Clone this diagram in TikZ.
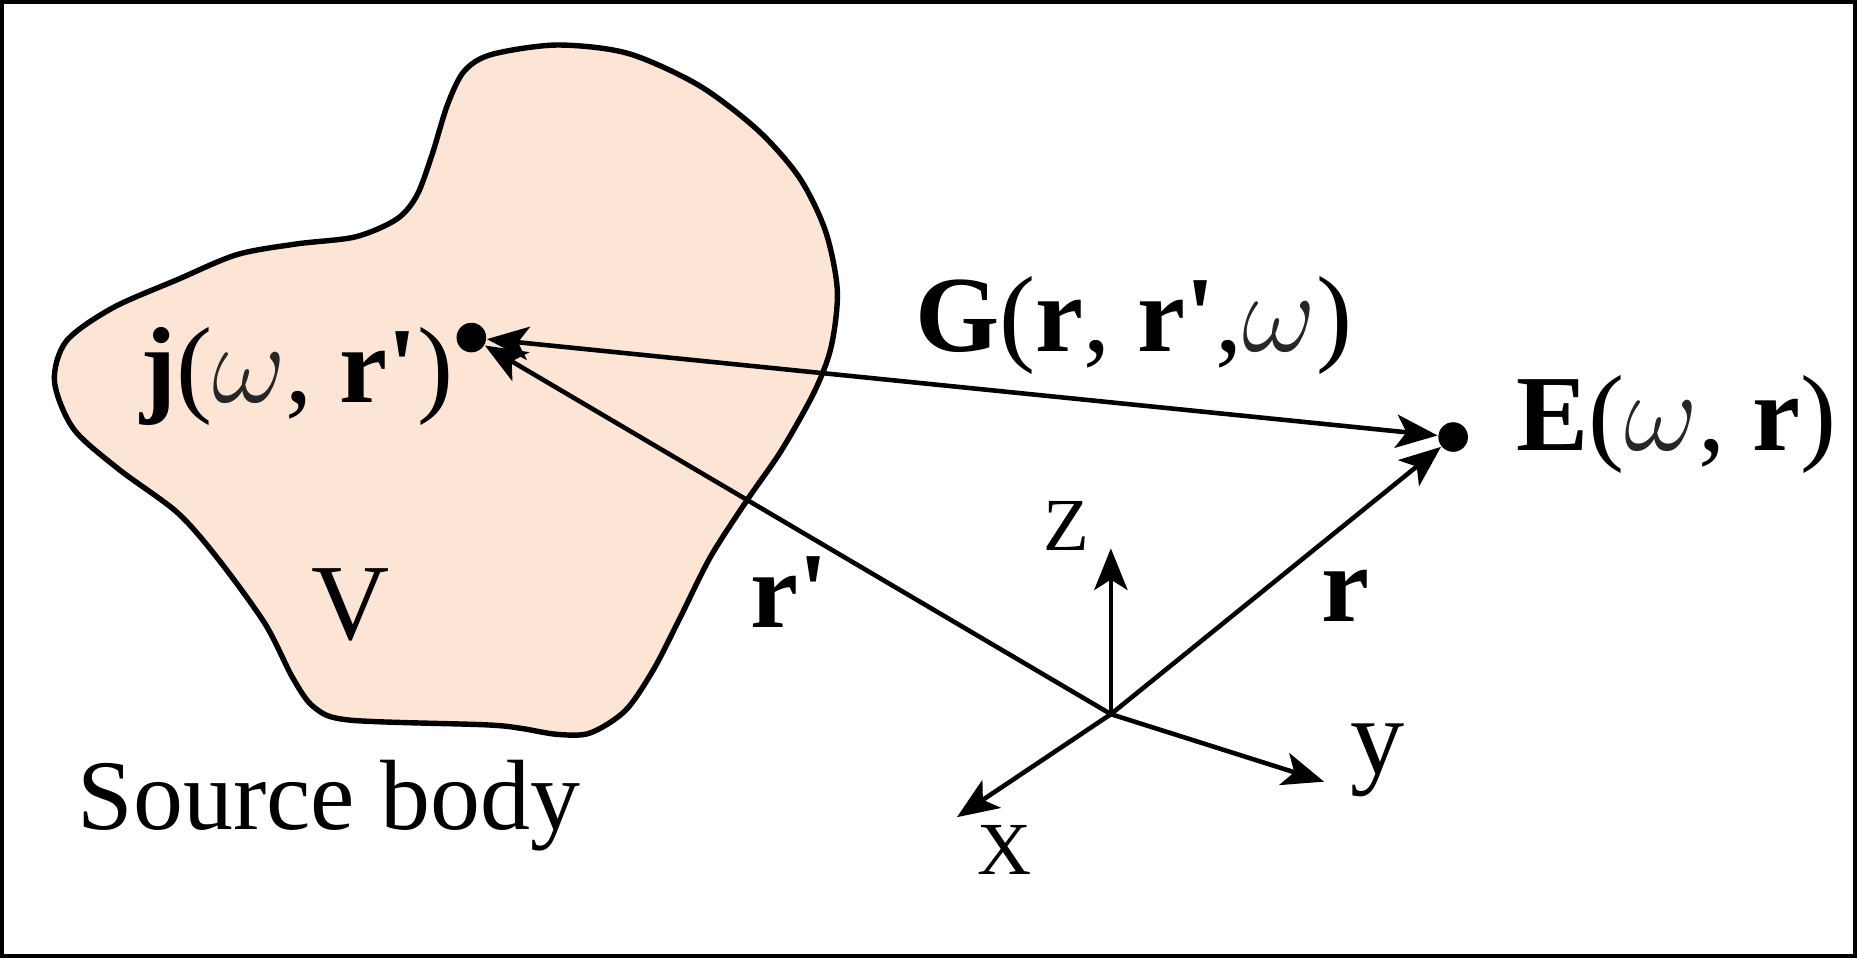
\documentclass[tikz,border=0pt]{standalone}
\usepackage{graphicx}
\usepackage{fontspec}
\setmainfont{Liberation Serif}
\usetikzlibrary{arrows.meta}
\definecolor{bodyfill}{RGB}{253,229,213}
\newcommand{\lblsize}{\fontsize{26pt}{30pt}\selectfont}
\newcommand{\axsize}{\fontsize{18pt}{22pt}\selectfont}
\newcommand{\srcsize}{\fontsize{24pt}{28pt}\selectfont}
\newcommand{\omg}{{\color{black!85}\scalebox{1.1}{$\omega$}}}
\newcommand{\rp}{\textbf{r\textquotesingle}}

\begin{document}
\begin{tikzpicture}[x=0.1mm, y=-0.1mm,
    >={Stealth[length=10pt, width=8pt, inset=2.5pt]},
    vec/.style={line width=1.1pt, ->},
    pt/.style={circle, fill=black, inner sep=0pt, minimum size=2.5mm},
    lbl/.style={inner sep=0pt, font=\lblsize},
    axlbl/.style={inner sep=0pt, font=\axsize}]
    \useasboundingbox (0,0) rectangle (1568,809);
    \draw[line width=1pt] (1.8,1.8) rectangle (1566.2,807.2);
    % source body
    \draw[line width=1.3pt, fill=bodyfill] plot[smooth cycle, tension=0.5] coordinates {
        (470,38) (530,45) (590,72) (640,110) (675,150) (697,195) (707,245)
        (702,292) (688,330) (660,380) (631,422) (600,470) (575,520) (552,565)
        (528,600) (498,619) (470,620) (440,615) (410,612) (295,608) (265,597)
        (247,572) (224,527) (185,473) (150,433) (100,396) (62,362) (46,322)
        (56,288) (95,260) (150,236) (200,215) (250,206) (300,200) (335,185)
        (352,165) (365,130) (378,88) (392,60) (415,46)};
    % points and origin
    \node[pt] (jdot) at (398,285) {};
    \node[pt] (edot) at (1227,369) {};
    \coordinate (o) at (938,603);
    \coordinate (ztip) at (938,463);
    \coordinate (xtip) at (808,690);
    \coordinate (ytip) at (1118,660);
    % vectors
    \draw[vec, <->] (jdot) -- (edot);
    \draw[vec] (o) -- (jdot);
    \draw[vec] (o) -- (edot);
    \draw[vec] (o) -- (ztip);
    \draw[vec] (o) -- (xtip);
    \draw[vec] (o) -- (ytip);
    % labels
    \node[lbl, anchor=base east] (jlbl) at (384,340) {\textbf{j}(\omg, \rp)};
    \node[lbl, anchor=base west] (glbl) at (772,297) {\textbf{G}(\textbf{r}, \rp,\omg)};
    \node[lbl, anchor=base west] (elbl) at (1280,380) {\textbf{E}(\omg, \textbf{r})};
    \node[lbl, anchor=base] (vlbl) at (296,540) {V};
    \node[lbl, anchor=base west] (rplbl) at (633,530) {\rp};
    \node[lbl, anchor=base west] (rlbl) at (1115,525) {\textbf{r}};
    \node[axlbl, anchor=base west] (zlbl) at (880,465) {Z};
    \node[axlbl, anchor=base west] (xlbl) at (825,738) {X};
    \node[lbl, anchor=base west] (ylbl) at (1140,653) {y};
    \node[inner sep=0pt, font=\srcsize, anchor=base west] (srclbl) at (65,700) {Source body};
\end{tikzpicture}
\end{document}
